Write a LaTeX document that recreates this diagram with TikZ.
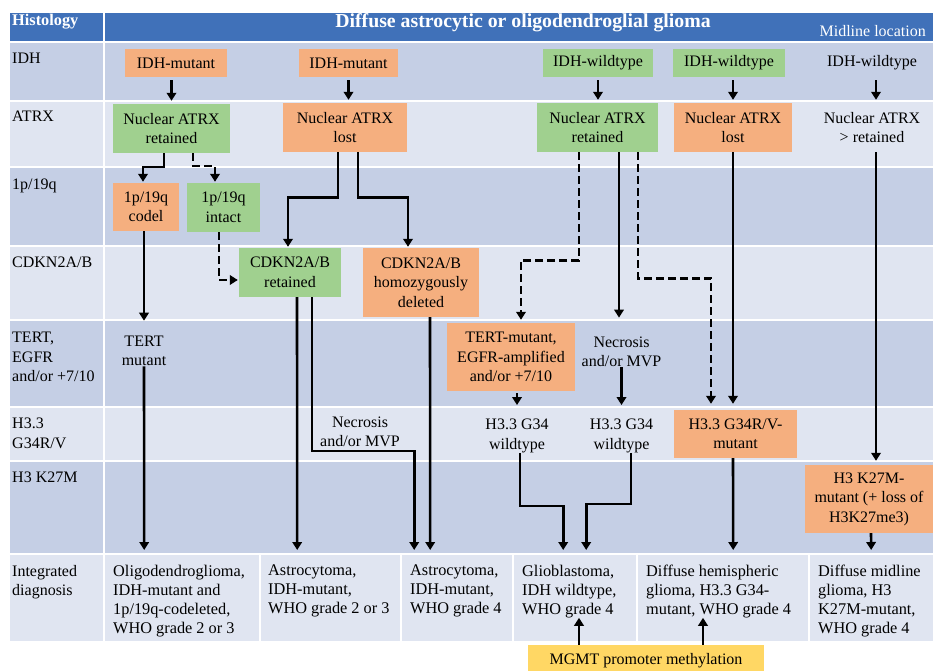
\documentclass[tikz,border=0pt]{standalone}
\usepackage{fontspec}
\setmainfont{Liberation Serif}
\usetikzlibrary{arrows.meta,calc}
\definecolor{hdr}{RGB}{64,113,185}
\definecolor{rowD}{RGB}{197,207,229}
\definecolor{rowL}{RGB}{224,229,241}
\definecolor{org}{RGB}{245,175,127}
\definecolor{grn}{RGB}{160,208,143}
\definecolor{ylw}{RGB}{255,215,100}
\begin{document}
\begin{tikzpicture}[x=1pt,y=-1pt,
  every node/.style={font=\fontsize{16}{19.5}\selectfont, align=center, inner sep=0pt},
  ob/.style={fill=org},
  gb/.style={fill=grn},
  lbl/.style={anchor=north west, align=left},
  dx/.style={anchor=north west, align=left, font=\fontsize{16.3}{19}\selectfont},
  cell/.style={fill=rowL, anchor=north west, minimum height=86pt},
  arr/.style={line width=2.6pt, -{Triangle[width=9.5pt,length=8pt]}, shorten >=1pt},
  arrd/.style={arr, dash pattern=on 8pt off 4pt},
  todg/.style={shorten >=5pt}]
\fill[white] (0,0) rectangle (933,671);
\useasboundingbox (0,0) rectangle (933,671);
% header
\fill[hdr] (10,13) rectangle (103,41);
\fill[hdr] (105,13) rectangle (933,41);
\foreach \t/\b/\c in {43/100/rowD,102/166/rowL,168/245/rowD,247/319/rowL,321/406/rowD,408/460/rowL,462/553/rowD}{
  \fill[\c] (10,\t) rectangle (103,\b);
  \fill[\c] (105,\t) rectangle (933,\b);
}
\fill[rowL] (10,555) rectangle (103,641);
\node[cell, minimum width=154pt] (g1) at (105,555) {};
\node[cell, minimum width=139pt] (g2) at (261,555) {};
\node[cell, minimum width=110pt] (g3) at (402,555) {};
\node[cell, minimum width=122pt] (g4) at (514,555) {};
\node[cell, minimum width=170pt] (g5) at (638,555) {};
\node[cell, minimum width=123pt] (g6) at (810,555) {};

\node[font=\fontsize{16.3}{19}\selectfont\bfseries, text=white, anchor=base west] (hh) at (12,26) {Histology};
\node[font=\fontsize{19.8}{22}\selectfont\bfseries, text=white, anchor=base] (ht) at (523,28) {Diffuse astrocytic or oligodendroglial glioma};
\node[text=white, anchor=base east] (hm) at (926,37) {Midline location};

% row labels
\node[lbl] (l1) at (12,53) {IDH};
\node[lbl] (l2) at (12,111) {ATRX};
\node[lbl] (l3) at (12,179) {1p/19q};
\node[lbl] (l4) at (12,257) {CDKN2A/B};
\node[lbl] (l5) at (12,332) {TERT,\\EGFR\\and/or +7/10};
\node[lbl] (l6) at (12,418) {H3.3\\G34R/V};
\node[lbl] (l7) at (12,472) {H3 K27M};
\node[lbl] (l8) at (12,565) {Integrated\\diagnosis};

% IDH row
\node[ob, minimum width=102pt, minimum height=28pt] (i1) at (176,63) {IDH-mutant};
\node[ob, minimum width=99pt, minimum height=28pt] (i2) at (348.5,63) {IDH-mutant};
\node[gb, minimum width=110pt, minimum height=28pt] (i3) at (598,63) {IDH-wildtype};
\node[gb, minimum width=112pt, minimum height=28pt] (i4) at (729,63) {IDH-wildtype};
\node[minimum width=110pt, minimum height=28pt] (i5) at (872,63) {IDH-wildtype};
% ATRX row
\node[gb, minimum width=117pt, minimum height=49pt] (a1) at (171.5,128.5) {Nuclear ATRX\\retained};
\node[ob, minimum width=124pt, minimum height=49pt] (a2) at (345,127.5) {Nuclear ATRX\\lost};
\node[gb, minimum width=121pt, minimum height=49pt] (a3) at (597.5,127.5) {Nuclear ATRX\\retained};
\node[ob, minimum width=118pt, minimum height=49pt] (a4) at (733,127.5) {Nuclear ATRX\\lost};
\node[minimum width=118pt, minimum height=49pt] (a5) at (872,127.5) {Nuclear ATRX\\> retained};
% 1p/19q row
\node[ob, minimum width=66pt, minimum height=48pt] (b1) at (146,207) {1p/19q\\codel};
\node[gb, minimum width=73pt, minimum height=49pt] (b2) at (223.5,207.5) {1p/19q\\intact};
% CDKN2A/B row
\node[gb, minimum width=102pt, minimum height=49pt] (c1) at (290,272.5) {CDKN2A/B\\retained};
\node[ob, minimum width=116pt, minimum height=69pt] (c2) at (421,282.5) {CDKN2A/B\\homozygously\\deleted};
% TERT row
\node (t1) at (144,351) {TERT\\mutant};
\node[ob, minimum width=128pt, minimum height=68pt] (d1) at (511,357) {TERT-mutant,\\EGFR-amplified\\and/or +7/10};
\node (n2) at (621.5,352) {Necrosis\\and/or MVP};
% H3.3 row
\node (n1) at (360,432) {Necrosis\\and/or MVP};
\node (h1) at (517,436) {H3.3 G34\\wildtype};
\node (h2) at (621.5,436) {H3.3 G34\\wildtype};
\node[ob, minimum width=123pt, minimum height=48pt] (e3) at (735.5,434) {H3.3 G34R/V-\\mutant};
% H3 K27M row
\node[ob, minimum width=128pt, minimum height=68pt] (f1) at (869,499) {H3 K27M-\\mutant (+ loss of\\H3K27me3)};
% diagnoses
\node[dx] (dt1) at ([xshift=8pt,yshift=-10pt]g1.north west) {Oligodendroglioma,\\IDH-mutant and\\1p/19q-codeleted,\\WHO grade 2 or 3};
\node[dx] (dt2) at ([xshift=7pt,yshift=-10pt]g2.north west) {Astrocytoma,\\IDH-mutant,\\WHO grade 2 or 3};
\node[dx] (dt3) at ([xshift=8pt,yshift=-10pt]g3.north west) {Astrocytoma,\\IDH-mutant,\\WHO grade 4};
\node[dx] (dt4) at ([xshift=8pt,yshift=-10pt]g4.north west) {Glioblastoma,\\IDH wildtype,\\WHO grade 4};
\node[dx] (dt5) at ([xshift=8pt,yshift=-10pt]g5.north west) {Diffuse hemispheric\\glioma, H3.3 G34-\\mutant, WHO grade 4};
\node[dx] (dt6) at ([xshift=8pt,yshift=-10pt]g6.north west) {Diffuse midline\\glioma, H3\\K27M-mutant,\\WHO grade 4};
% MGMT
\node[fill=ylw, minimum width=236pt, minimum height=31pt] (m) at (646,660.5) {MGMT promoter methylation};

% connectors
\draw[arr, shorten <=3pt, shorten >=3pt] (i1.south -| a1.north) -- (a1.north);
\draw[arr, shorten <=3pt, shorten >=3pt] (i2.south) -- (i2.south |- a2.north);
\draw[arr, shorten <=3pt, shorten >=3pt] (i3.south) -- (i3.south |- a3.north);
\draw[arr, shorten <=3pt, shorten >=3pt] (i4.south -| a4.north) -- (a4.north);
\draw[arr, shorten <=3pt, shorten >=3pt] ([xshift=4pt]i5.south) -- ([xshift=4pt]a5.north);

\draw[arr] ([xshift=-7.5pt]a1.south) -- ++(0,14) -| ([xshift=-3pt]b1.north);
\draw[arrd] ([xshift=21.5pt]a1.south) -- ++(0,13) -| ([xshift=-8.5pt]b2.north);
\draw[arr] ([xshift=-7pt]a2.south) -- ++(0,45) -| ([xshift=-2pt]c1.north);
\draw[arr] ([xshift=13pt]a2.south) -- ++(0,45) -| ([xshift=-13pt]c2.north);
\draw[arrd] ([xshift=-4.5pt]b2.south) |- ([yshift=-7.5pt]c1.west);
\draw[arr] ([xshift=-2pt]b1.south) -- ([yshift=14pt]t1.north);
\draw[arr,todg] (t1.south) -- ([xshift=-38pt]g1.north);
\draw[arr,todg] ([xshift=7pt]c1.south) -- ([xshift=-33.5pt]g2.north);
\draw[arr,todg] ([xshift=22pt]c1.south) |- ([xshift=-43pt,yshift=104pt]g3.north) -- ([xshift=-43pt]g3.north);
\draw[arr,todg] ([xshift=9pt]c2.south) -- ([xshift=-27pt]g3.north);

\draw[arrd, shorten >=3pt] ([xshift=-18.5pt]a3.south) -- ++(0,108) -| ([xshift=10pt]d1.north);
\draw[arr] ([xshift=21.5pt]a3.south) -- ([xshift=-2.5pt,yshift=18pt]n2.north);
\draw[arrd, shorten >=6pt] ([xshift=40.5pt]a3.south) -- ++(0,126) -| ([xshift=-24.5pt]e3.north);
\draw[arr, shorten >=6pt] (a4.south) -- (a4.south |- e3.north);
\draw[arr, shorten >=4pt] ([xshift=4pt]a5.south) -- ([xshift=4pt]a5.south |- f1.north);
\draw[arr, shorten <=2pt] ([xshift=6pt]d1.south) -- ([yshift=13pt]h1.north);
\draw[arr] (n2.south) -- ([yshift=13pt]h2.north);
\draw[arr,todg] ([xshift=3pt]h1.south) |- ([xshift=-12pt,yshift=49pt]g4.north) -- ([xshift=-12pt]g4.north);
\draw[arr,todg] ([xshift=9.5pt]h2.south) |- ([xshift=11pt,yshift=51pt]g4.north) -- ([xshift=11pt]g4.north);
\draw[arr,todg] ([xshift=-2.5pt]e3.south) -- ([xshift=10pt]g5.north);
\draw[arr,todg] ([xshift=2pt]f1.south) -- ([xshift=-0.5pt]g6.north);
\draw[arr] ([xshift=-67pt]m.north) -- ++(0,-28);
\draw[arr] ([xshift=57pt]m.north) -- ++(0,-28);
\end{tikzpicture}
\end{document}
